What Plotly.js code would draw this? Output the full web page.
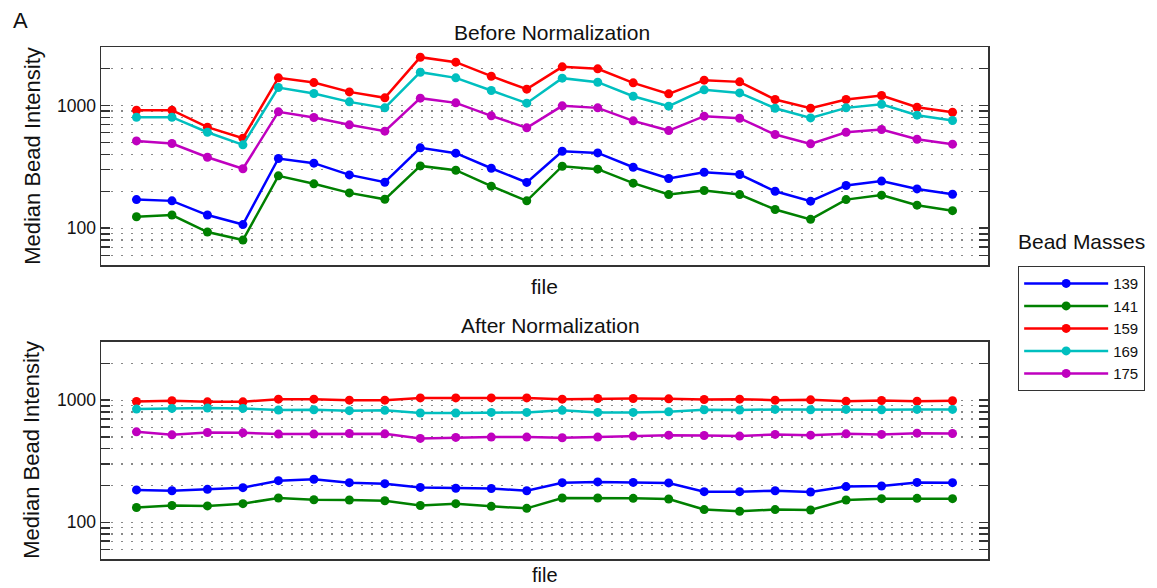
<!DOCTYPE html>
<html>
<head>
<meta charset="utf-8">
<script src="https://cdn.plot.ly/plotly-3.0.1.min.js"></script>
<style>html,body{margin:0;padding:0;background:#fff;}#chart{width:1157px;height:588px;}</style>
</head>
<body>
<div id="chart"></div>
<script>
// ---- data ----
const files = Array.from({length: 24}, (_, i) => i + 1); // file index 1..24
const masses = ["139", "141", "159", "169", "175"];
const colors = ["#0000ff", "#008000", "#ff0000", "#00bfbf", "#bf00bf"];

// Before normalization
const before139 = [171, 167, 128, 107, 370, 339, 272, 237, 452, 409, 308, 236, 424, 411, 314, 254, 286, 274, 200, 166, 223, 242, 209, 189];
const before141 = [124, 128, 93, 80, 267, 230, 194, 172, 322, 297, 220, 167, 320, 303, 233, 188, 203, 188, 142, 118, 171, 186, 154, 139];
const before159 = [916, 916, 666, 542, 1681, 1539, 1292, 1155, 2477, 2256, 1734, 1359, 2066, 1991, 1530, 1245, 1609, 1559, 1119, 951, 1119, 1206, 969, 882];
const before169 = [803, 803, 606, 478, 1402, 1252, 1071, 957, 1869, 1681, 1325, 1045, 1671, 1549, 1191, 988, 1342, 1268, 951, 793, 957, 1025, 834, 755];
const before175 = [515, 490, 379, 305, 888, 798, 696, 618, 1148, 1051, 824, 658, 994, 957, 750, 625, 819, 788, 580, 487, 606, 637, 531, 484];

// After normalization
const after139 = [184, 181, 186, 192, 219, 225, 211, 207, 193, 190, 189, 181, 211, 214, 212, 210, 178, 178, 181, 177, 196, 198, 212, 211];
const after141 = [132, 137, 136, 142, 158, 153, 152, 150, 137, 142, 135, 130, 158, 158, 157, 155, 127, 123, 127, 126, 152, 156, 157, 156];
const after159 = [975, 988, 969, 969, 1019, 1019, 1000, 1000, 1044, 1044, 1044, 1044, 1019, 1032, 1032, 1025, 1012, 1019, 1000, 1006, 981, 994, 981, 988];
const after169 = [845, 856, 861, 856, 830, 835, 820, 825, 785, 785, 794, 794, 825, 794, 794, 804, 835, 830, 840, 835, 840, 835, 840, 840];
const after175 = [550, 520, 543, 540, 527, 527, 533, 530, 486, 495, 498, 498, 492, 498, 508, 517, 514, 508, 524, 517, 530, 524, 537, 533];

const yTickVals = [60, 70, 80, 90, 100, 200, 300, 400, 500, 600, 700, 800, 900, 1000, 2000];
const yTickText = ["", "", "", "", "100", "", "", "", "", "", "", "", "", "1000", ""];

const beforeSeries = [before139, before141, before159, before169, before175];
const afterSeries = [after139, after141, after159, after169, after175];

const traces = [];
beforeSeries.forEach((ys, i) => {
  traces.push({
    x: files, y: ys, name: masses[i], type: "scatter", mode: "lines+markers",
    line: {color: colors[i], width: 2.5}, marker: {color: colors[i], size: 9},
    xaxis: "x", yaxis: "y", showlegend: true
  });
});
afterSeries.forEach((ys, i) => {
  traces.push({
    x: files, y: ys, name: masses[i], type: "scatter", mode: "lines+markers",
    line: {color: colors[i], width: 2.5}, marker: {color: colors[i], size: 9},
    xaxis: "x2", yaxis: "y2", showlegend: false
  });
});

const FONT = "Liberation Sans, Arial, Helvetica, sans-serif";
const yRange = [Math.log10(50), Math.log10(3000)];

function yAxis(domain, anchor) {
  return {
    type: "log", range: yRange, domain: domain, anchor: anchor,
    tickvals: yTickVals, ticktext: yTickText,
    ticks: "inside", ticklen: 9, tickwidth: 1.5, tickcolor: "#333",
    showline: true, linecolor: "#333", linewidth: 1.5, mirror: "ticks",
    showgrid: true, gridcolor: "#888", gridwidth: 1.3, griddash: "1.5px,8.5px",
    zeroline: false,
    tickfont: {family: FONT, size: 17.5, color: "#111"}
  };
}
function xAxis(anchor) {
  return {
    range: [0, 25], anchor: anchor, domain: [0, 1],
    showticklabels: false, ticks: "", showgrid: false, zeroline: false,
    showline: true, linecolor: "#333", linewidth: 1.5, mirror: true
  };
}

const layout = {
  width: 1157, height: 588,
  margin: {l: 101, r: 169, t: 47, b: 29},
  paper_bgcolor: "#fff", plot_bgcolor: "#fff",
  font: {family: FONT, color: "#111"},
  xaxis: xAxis("y"),
  yaxis: yAxis([0.574, 1], "x"),
  xaxis2: xAxis("y2"),
  yaxis2: yAxis([0, 0.424], "x2"),
  showlegend: true,
  legend: {
    x: 1.034, xanchor: "left", y: 0.572, yanchor: "top",
    bordercolor: "#333", borderwidth: 1, bgcolor: "#fff",
    font: {family: FONT, size: 15, color: "#111"},
    itemwidth: 84, tracegroupgap: 0
  },
  annotations: [
    {text: "A", xref: "paper", yref: "paper", x: -0.101, y: 1.052, xanchor: "left", yanchor: "middle", showarrow: false, font: {family: FONT, size: 22, color: "#111"}},
    {text: "Before Normalization", xref: "paper", yref: "paper", x: 0.508, y: 1.0, yshift: 15, xanchor: "center", yanchor: "middle", showarrow: false, font: {family: FONT, size: 21, color: "#111"}},
    {text: "After Normalization", xref: "paper", yref: "paper", x: 0.507, y: 0.424, yshift: 16, xanchor: "center", yanchor: "middle", showarrow: false, font: {family: FONT, size: 21, color: "#111"}},
    {text: "file", xref: "paper", yref: "paper", x: 0.5, y: 0.574, yshift: -21, xanchor: "center", yanchor: "middle", showarrow: false, font: {family: FONT, size: 21, color: "#111"}},
    {text: "file", xref: "paper", yref: "paper", x: 0.5, y: 0, yshift: -16, xanchor: "center", yanchor: "middle", showarrow: false, font: {family: FONT, size: 20, color: "#111"}},
    {text: "Median Bead Intensity", xref: "paper", yref: "paper", x: -0.078, y: 0.787, textangle: -90, xanchor: "center", yanchor: "middle", showarrow: false, font: {family: FONT, size: 22, color: "#111"}},
    {text: "Median Bead Intensity", xref: "paper", yref: "paper", x: -0.078, y: 0.213, textangle: -90, xanchor: "center", yanchor: "middle", showarrow: false, font: {family: FONT, size: 22, color: "#111"}},
    {text: "Bead Masses", xref: "paper", yref: "paper", x: 1.105, y: 0.62, xanchor: "center", yanchor: "middle", showarrow: false, font: {family: FONT, size: 21, color: "#111"}}
  ]
};

Plotly.newPlot("chart", traces, layout, {displayModeBar: false, staticPlot: true});
</script>
</body>
</html>
